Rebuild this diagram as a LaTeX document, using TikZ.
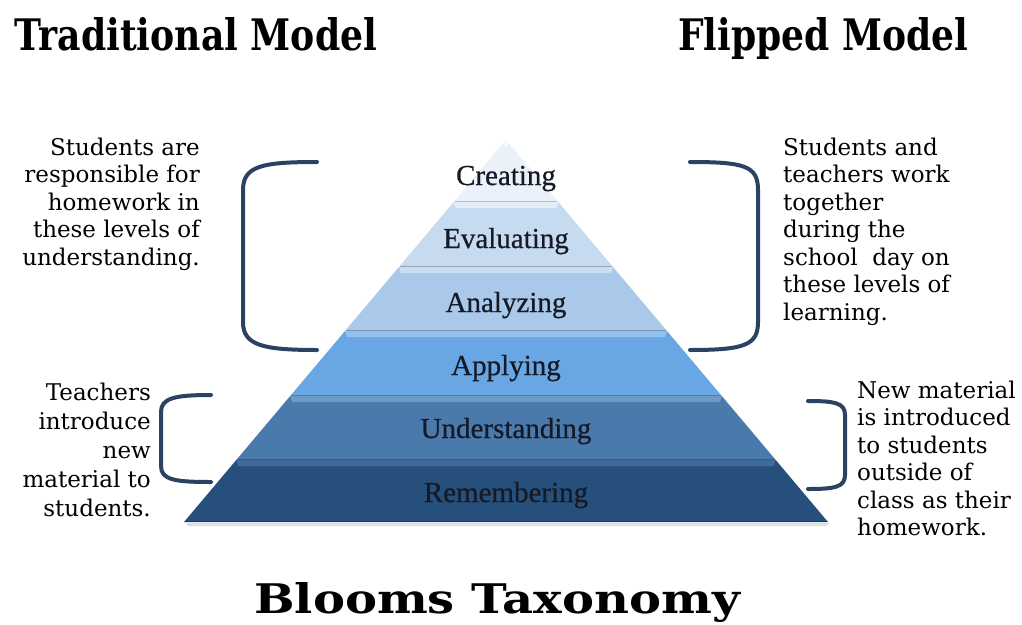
\documentclass[tikz,border=0pt]{standalone}
\usepackage{fontspec}
\setmainfont{DejaVu Serif}
\newfontfamily\lblfont[FakeBold=0.6]{Liberation Serif}
\usepackage{graphicx}
\usetikzlibrary{calc}
\definecolor{brk}{HTML}{2C4262}
\definecolor{txt}{HTML}{151A26}
\definecolor{c1b}{HTML}{EAF1F9}\definecolor{c1h}{HTML}{FFFFFF}
\definecolor{c2b}{HTML}{C7DBF0}\definecolor{c2h}{HTML}{E2EDF8}
\definecolor{c3b}{HTML}{A9C8EA}\definecolor{c3h}{HTML}{CADEF3}
\definecolor{c4b}{HTML}{68A7E4}\definecolor{c4h}{HTML}{92C2EF}
\definecolor{c5b}{HTML}{4A7AAB}\definecolor{c5h}{HTML}{6E9AC7}
\definecolor{c6b}{HTML}{274F7C}\definecolor{c6h}{HTML}{41699A}
\begin{document}
\begin{tikzpicture}[x=1pt,y=-1pt,
  lvl/.style={font=\lblfont\fontsize{29}{34}\selectfont, text=txt, anchor=base, inner sep=0pt},
  side/.style={font=\fontsize{23}{27.5}\selectfont, text=black, inner sep=0pt},
  title/.style={font=\bfseries, text=black, inner sep=0pt, anchor=base west},
  bracket/.style={draw=brk, line width=4pt, line cap=round, line join=round}]
\useasboundingbox (0,0) rectangle (1022,624);
\fill[white] (0,0) rectangle (1022,624);

% titles
\node[title] (trad) at (14,50) {\resizebox{363pt}{33pt}{Traditional Model}};
\node[title] (flip) at (678,50) {\resizebox{290pt}{33pt}{Flipped Model}};
\node[title] (bloom) at (254,613) {\resizebox{486pt}{31pt}{Blooms Taxonomy}};

% pyramid
\coordinate (apex) at (506,140);
\coordinate (bl) at (184,522);
\coordinate (br) at (828,522);
\fill[black!25, opacity=0.5] ($(bl)+(2,1)$) -- ($(br)+(2,1)$) -- ($(br)+(-2,4)$) -- ($(bl)+(4,4)$) -- cycle;
\foreach \ya/\yb/\cb/\ch/\nm/\txt/\bs in {
  140/202/c1b/c1h/creating/Creating/185,
  202/267/c2b/c2h/evaluating/Evaluating/248,
  267/331/c3b/c3h/analyzing/Analyzing/312,
  331/396/c4b/c4h/applying/Applying/375,
  396/460/c5b/c5h/understanding/Understanding/438,
  460/522/c6b/c6h/remembering/Remembering/502}
{
  \pgfmathsetmacro\ta{(\ya-140)/382}
  \pgfmathsetmacro\tb{(\yb-140)/382}
  \pgfmathsetmacro\tc{(\ya+6-140)/382}
  \fill[\cb] ($(apex)!\ta!(bl)$) -- ($(apex)!\ta!(br)$) -- ($(apex)!\tb!(br)$) -- ($(apex)!\tb!(bl)$) -- cycle;
  \fill[\ch] ($(apex)!\ta!(bl)$) -- ($(apex)!\ta!(br)$) -- ($(apex)!\tc!(br)+(-7,0)$) -- ($(apex)!\tc!(bl)+(7,0)$) -- cycle;
  \draw[\cb!75!black, line width=1pt] ($(apex)!\tb!(bl)+(1,-0.5)$) -- ($(apex)!\tb!(br)+(-1,-0.5)$);
  \node[lvl] (\nm) at (506,\bs) {\txt};
}

% side texts
\node[side, anchor=north east, align=right] (lt) at (200,137.5)
  {Students are\\responsible for\\homework in\\these levels of\\understanding.};
\node[side, anchor=north east, align=right, font=\fontsize{23}{29}\selectfont] (lb) at (151,382.5)
  {Teachers\\introduce\\new\\material to\\students.};
\node[side, anchor=north west, align=left] (rt) at (783,137.5)
  {Students and\\teachers work\\together\\during the\\school\ \ day on\\these levels of\\learning.};
\node[side, anchor=north west, align=left] (rb) at (857,380.5)
  {New material\\is introduced\\to students\\outside of\\class as their\\homework.};

% brackets
\coordinate (lta) at (317,162); \coordinate (ltb) at (317,350);
\draw[bracket] (lta) .. controls (262,162) and (243,166) .. (243,190)
  -- (243,322) .. controls (243,345) and (262,350) .. (ltb);
\coordinate (lba) at (211,395); \coordinate (lbb) at (211,482);
\draw[bracket] (lba) .. controls (175,395) and (161,398) .. (161,412)
  -- (161,466) .. controls (161,480) and (175,482) .. (lbb);
\coordinate (rta) at (690,162); \coordinate (rtb) at (690,350);
\draw[bracket] (rta) .. controls (745,162) and (758,166) .. (758,190)
  -- (758,322) .. controls (758,345) and (745,350) .. (rtb);
\coordinate (rba) at (808,401); \coordinate (rbb) at (808,489);
\draw[bracket] (rba) .. controls (835,401) and (845,403) .. (845,415)
  -- (845,475) .. controls (845,487) and (835,489) .. (rbb);
\end{tikzpicture}
\end{document}
